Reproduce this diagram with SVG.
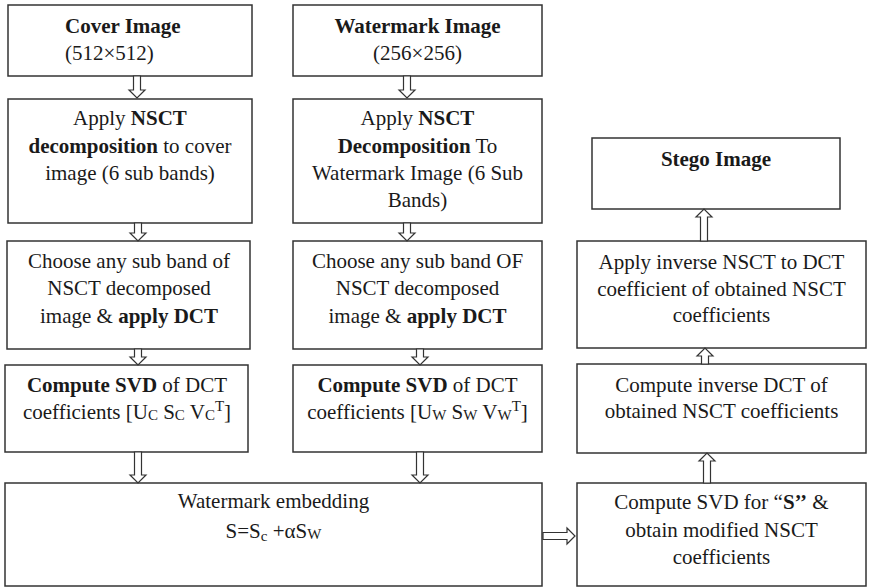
<svg xmlns="http://www.w3.org/2000/svg" width="869" height="587" viewBox="0 0 869 587" font-family="'Liberation Serif', 'Times New Roman', Times, serif" font-size="21">
  <style>
    .box { fill: #ffffff; stroke: #333333; stroke-width: 1.5; }
    .arrow { fill: #ffffff; stroke: #333333; stroke-width: 1.2; stroke-linejoin: miter; }
    text { fill: #1a1a1a; }
    .c { text-anchor: middle; }
    .b { font-weight: bold; }
    .sub { font-size: 15px; }
  </style>
  <rect width="869" height="587" fill="#ffffff"/>

  <!-- left column: cover image path -->
  <g id="cover-image">
    <rect class="box" x="8" y="5" width="244" height="71"/>
    <text x="65" y="33" class="b">Cover Image</text>
    <text x="65" y="60">(512×512)</text>
  </g>
  <g id="cover-nsct">
    <rect class="box" x="8" y="99" width="244" height="124"/>
    <text x="130" y="125" class="c">Apply <tspan class="b">NSCT</tspan></text>
    <text x="130" y="153" class="c"><tspan class="b">decomposition</tspan> to cover</text>
    <text x="130" y="180" class="c">image (6 sub bands)</text>
  </g>
  <g id="cover-dct">
    <rect class="box" x="7" y="241" width="243" height="108"/>
    <text x="129" y="268" class="c">Choose any sub band of</text>
    <text x="129" y="295" class="c">NSCT decomposed</text>
    <text x="129" y="323" class="c">image &amp; <tspan class="b">apply DCT</tspan></text>
  </g>
  <g id="cover-svd">
    <rect class="box" x="5" y="365" width="243" height="87"/>
    <text x="127" y="392" class="c"><tspan class="b">Compute SVD</tspan> of DCT</text>
    <text x="127" y="419" class="c">coefficients [U<tspan class="sub" dy="1">C</tspan><tspan dy="-1"> S</tspan><tspan class="sub" dy="1">C</tspan><tspan dy="-1"> V</tspan><tspan class="sub" dy="1">C</tspan><tspan class="sub" dy="-9">T</tspan><tspan dy="8">]</tspan></text>
  </g>

  <!-- middle column: watermark image path -->
  <g id="watermark-image">
    <rect class="box" x="293" y="5" width="249" height="71"/>
    <text x="417.5" y="33" class="c b">Watermark Image</text>
    <text x="417.5" y="60" class="c">(256×256)</text>
  </g>
  <g id="watermark-nsct">
    <rect class="box" x="293" y="99" width="249" height="124"/>
    <text x="417.5" y="125" class="c">Apply <tspan class="b">NSCT</tspan></text>
    <text x="417.5" y="153" class="c"><tspan class="b">Decomposition</tspan> To</text>
    <text x="417.5" y="180" class="c">Watermark Image (6 Sub</text>
    <text x="417.5" y="207" class="c">Bands)</text>
  </g>
  <g id="watermark-dct">
    <rect class="box" x="293" y="241" width="249" height="108"/>
    <text x="417.5" y="268" class="c">Choose any sub band OF</text>
    <text x="417.5" y="295" class="c">NSCT decomposed</text>
    <text x="417.5" y="323" class="c">image &amp; <tspan class="b">apply DCT</tspan></text>
  </g>
  <g id="watermark-svd">
    <rect class="box" x="293" y="365" width="249" height="87"/>
    <text x="417.5" y="392" class="c"><tspan class="b">Compute SVD</tspan> of DCT</text>
    <text x="417.5" y="419" class="c">coefficients [U<tspan class="sub" dy="1">W</tspan><tspan dy="-1"> S</tspan><tspan class="sub" dy="1">W</tspan><tspan dy="-1"> V</tspan><tspan class="sub" dy="1">W</tspan><tspan class="sub" dy="-9">T</tspan><tspan dy="8">]</tspan></text>
  </g>

  <!-- embedding step -->
  <g id="embedding">
    <rect class="box" x="5" y="483" width="537" height="103"/>
    <text x="273.5" y="508" class="c">Watermark embedding</text>
    <text x="273.5" y="538" class="c">S=S<tspan class="sub" dy="3">c</tspan><tspan dy="-3"> +αS</tspan><tspan class="sub" dy="1">W</tspan></text>
  </g>

  <!-- right column: reconstruction path -->
  <g id="stego-image">
    <rect class="box" x="592" y="138" width="248" height="71"/>
    <text x="716" y="166" class="c b">Stego Image</text>
  </g>
  <g id="inverse-nsct">
    <rect class="box" x="577" y="241" width="289" height="107"/>
    <text x="721.5" y="269" class="c">Apply inverse NSCT to DCT</text>
    <text x="721.5" y="296" class="c">coefficient of obtained NSCT</text>
    <text x="721.5" y="322" class="c">coefficients</text>
  </g>
  <g id="inverse-dct">
    <rect class="box" x="577" y="364" width="289" height="89"/>
    <text x="721.5" y="392" class="c">Compute inverse DCT of</text>
    <text x="721.5" y="418" class="c">obtained NSCT coefficients</text>
  </g>
  <g id="svd-modified">
    <rect class="box" x="577" y="483" width="289" height="103"/>
    <text x="721.5" y="509" class="c">Compute SVD for “<tspan class="b">S’’</tspan> &amp;</text>
    <text x="721.5" y="537" class="c">obtain modified NSCT</text>
    <text x="721.5" y="564" class="c">coefficients</text>
  </g>

  <!-- hollow block arrows -->
  <g id="connectors">
    <!-- downward -->
    <path class="arrow" d="M133.5,76 H140.5 V90 H145 L137,98 L129,90 H133.5 Z"/>
    <path class="arrow" d="M403.5,76 H410.5 V90 H415 L407,98 L399,90 H403.5 Z"/>
    <path class="arrow" d="M134.5,223 H141.5 V233 H146 L138,241 L130,233 H134.5 Z"/>
    <path class="arrow" d="M403.5,223 H410.5 V233 H415 L407,241 L399,233 H403.5 Z"/>
    <path class="arrow" d="M134.5,349 H141.5 V357 H146 L138,365 L130,357 H134.5 Z"/>
    <path class="arrow" d="M416.5,349 H423.5 V357 H428 L420,365 L412,357 H416.5 Z"/>
    <path class="arrow" d="M134.5,452 H141.5 V475 H146 L138,483 L130,475 H134.5 Z"/>
    <path class="arrow" d="M416.5,452 H423.5 V475 H428 L420,483 L412,475 H416.5 Z"/>
    <!-- upward -->
    <path class="arrow" d="M703.5,483 H710.5 V461 H715 L707,453 L699,461 H703.5 Z"/>
    <path class="arrow" d="M701.5,364 H708.5 V356 H713 L705,348 L697,356 H701.5 Z"/>
    <path class="arrow" d="M700.5,241 H707.5 V217 H712 L704,209 L696,217 H700.5 Z"/>
    <!-- rightward -->
    <path class="arrow" d="M543,532.5 V539.5 H567 V544 L575,536 L567,528 V532.5 Z"/>
  </g>
</svg>
